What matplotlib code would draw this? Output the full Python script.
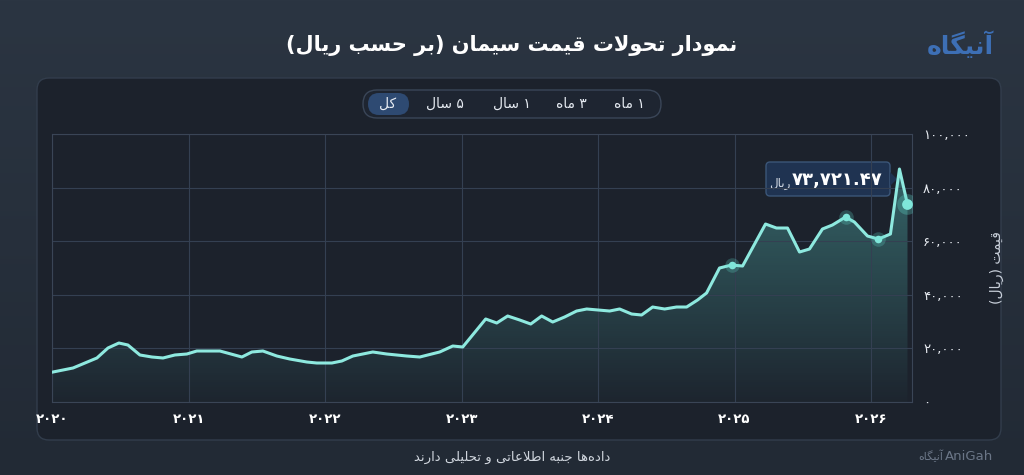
import re
import numpy as np
import matplotlib
matplotlib.use("Agg")
import matplotlib.pyplot as plt
from matplotlib.patches import FancyBboxPatch, Polygon
from matplotlib.colors import LinearSegmentedColormap

# ---- data (fractional years since 2020, price in rial) ----
t_years = [0.007, 0.154, 0.329, 0.41, 0.49, 0.556, 0.644, 0.732, 0.813, 0.9, 0.988,
           1.061, 1.23, 1.391, 1.464, 1.545, 1.647, 1.742, 1.867, 1.94, 2.05, 2.123,
           2.204, 2.35, 2.452, 2.599, 2.694, 2.84, 2.936, 3.009, 3.177, 3.258,
           3.338, 3.426, 3.507, 3.587, 3.668, 3.755, 3.843, 3.917, 4.085, 4.158, 4.246,
           4.319, 4.4, 4.488, 4.575, 4.649, 4.729, 4.795, 4.89, 4.978, 5.059, 5.227,
           5.307, 5.388, 5.476, 5.549, 5.644, 5.717, 5.813, 5.878, 5.974, 6.054, 6.142,
           6.208, 6.267]
price = [11190, 12690, 16420, 20150, 22010, 21270, 17540, 16790, 16420, 17540, 17910,
         19030, 19030, 16790, 18660, 19030, 17160, 16040, 14920, 14550, 14550, 15300,
         17160, 18660, 17910, 17160, 16790, 18660, 20890, 20520, 30970, 29480, 32090,
         30600, 29100, 32090, 29850, 31710, 33950, 34700, 33950, 34700, 32830, 32460,
         35440, 34700, 35440, 35440, 38060, 40670, 50000, 51110, 50740, 66410, 64920,
         64920, 55970, 57080, 64550, 66040, 69020, 67160, 61930, 60810, 62680, 86930,
         73721.47]
marker_idx = [51, 60, 63]
year_ticks = [2020, 2021, 2022, 2023, 2024, 2025, 2026]
price_ticks = [0, 20000, 40000, 60000, 80000, 100000]
ranges = ["۱ ماه", "۳ ماه", "۱ سال", "۵ سال", "کل"]

# ---- minimal Persian shaping (matplotlib has no RTL / joining) ----
FORMS = {
    'ا': ('\uFE8D', '\uFE8E', None, None), 'آ': ('\uFE81', '\uFE82', None, None),
    'ب': ('\uFE8F', '\uFE90', '\uFE91', '\uFE92'), 'ت': ('\uFE95', '\uFE96', '\uFE97', '\uFE98'),
    'ج': ('\uFE9D', '\uFE9E', '\uFE9F', '\uFEA0'), 'ح': ('\uFEA1', '\uFEA2', '\uFEA3', '\uFEA4'),
    'د': ('\uFEA9', '\uFEAA', None, None), 'ر': ('\uFEAD', '\uFEAE', None, None),
    'س': ('\uFEB1', '\uFEB2', '\uFEB3', '\uFEB4'), 'ط': ('\uFEC1', '\uFEC2', '\uFEC3', '\uFEC4'),
    'ع': ('\uFEC9', '\uFECA', '\uFECB', '\uFECC'), 'ق': ('\uFED5', '\uFED6', '\uFED7', '\uFED8'),
    'ل': ('\uFEDD', '\uFEDE', '\uFEDF', '\uFEE0'), 'م': ('\uFEE1', '\uFEE2', '\uFEE3', '\uFEE4'),
    'ن': ('\uFEE5', '\uFEE6', '\uFEE7', '\uFEE8'), 'ه': ('\uFEE9', '\uFEEA', '\uFEEB', '\uFEEC'),
    'و': ('\uFEED', '\uFEEE', None, None), 'ی': ('\uFBFC', '\uFBFD', '\uFBFE', '\uFBFF'),
    'ک': ('\uFB8E', '\uFB8F', '\uFB90', '\uFB91'), 'گ': ('\uFB92', '\uFB93', '\uFB94', '\uFB95'),
}
MIRROR = {'(': ')', ')': '('}


def fa(s):
    chars = list(s)
    out = []
    i = 0
    while i < len(chars):
        c = chars[i]
        if c not in FORMS:
            if c != '\u200c':
                out.append(MIRROR.get(c, c))
            i += 1
            continue
        prev = chars[i - 1] if i > 0 else None
        joins_prev = prev in FORMS and FORMS[prev][2] is not None
        if c == 'ل' and i + 1 < len(chars) and chars[i + 1] == 'ا':
            out.append('\uFEFC' if joins_prev else '\uFEFB')
            i += 2
            continue
        nxt = chars[i + 1] if i + 1 < len(chars) else None
        joins_next = FORMS[c][2] is not None and nxt in FORMS
        iso, fin, ini, med = FORMS[c]
        if joins_prev and joins_next:
            out.append(med)
        elif joins_prev:
            out.append(fin)
        elif joins_next:
            out.append(ini)
        else:
            out.append(iso)
        i += 1
    vis = ''.join(out)[::-1]
    return re.sub(r'[۰-۹0-9.,]+', lambda m: m.group(0)[::-1], vis)


def fa_num(v, fmt="{:,}"):
    s = fmt.format(v)
    return s.translate(str.maketrans("0123456789", "۰۱۲۳۴۵۶۷۸۹"))


plt.rcParams['font.family'] = ['DejaVu Sans']

W, H = 1024, 475
fig = plt.figure(figsize=(W / 100, H / 100), dpi=100)

# background gradient
bg = fig.add_axes([0, 0, 1, 1])
bg.set_xlim(0, W); bg.set_ylim(H, 0); bg.axis("off")
grad = np.linspace(0, 1, 256)[:, None] * np.ones((1, 256))
cm_bg = LinearSegmentedColormap.from_list("bg", ["#2b3542", "#222a35"])
bg.imshow(grad, cmap=cm_bg, extent=[0, W, H, 0], aspect="auto")
bg.add_patch(FancyBboxPatch((37, 78), 964, 362, boxstyle="round,pad=0,rounding_size=12",
                            fc="#1c222c", ec="#323d4c", lw=1))
bg.text(512, 45, fa("نمودار تحولات قیمت سیمان (بر حسب ریال)"), color="white",
        fontsize=15, fontweight="bold", ha="center", va="center")
bg.text(960, 45, fa("آنیگاه"), color="#3d6fb5", fontsize=18, fontweight="bold",
        ha="center", va="center")

# range selector
bg.add_patch(FancyBboxPatch((363, 90), 298, 28, boxstyle="round,pad=0,rounding_size=14",
                            fc="#1e2531", ec="#3a4658", lw=1))
bg.add_patch(FancyBboxPatch((368, 93), 41, 22, boxstyle="round,pad=0,rounding_size=11",
                            fc="#2e4a72", ec="none"))
for xc, lab in zip([629, 571, 512, 445, 388], ranges):
    bg.text(xc, 104, fa(lab), color="#e6ebf2", fontsize=10, ha="center", va="center")

bg.text(512, 457, fa("داده\u200cها جنبه اطلاعاتی و تحلیلی دارند"), color="#d0d6de",
        fontsize=9.5, ha="center", va="center")
bg.text(993, 456, "AniGah", color="#6b7687", fontsize=9.5, ha="right", va="center")
bg.text(943, 456, fa("آنیگاه"), color="#6b7687", fontsize=8, ha="right", va="center")

# ---- chart ----
x0, x1, y0, y1 = 52, 912, 134, 402
ax = fig.add_axes([x0 / W, 1 - y1 / H, (x1 - x0) / W, (y1 - y0) / H])
ax.set_facecolor("none")
tx = 2020 + np.array(t_years)
py = np.array(price)
ax.set_xlim(2020, 2026.3)
ax.set_ylim(0, 100000)
for s in ax.spines.values():
    s.set_color("#3a4556")
ax.grid(True, color="#344052", lw=0.8)
ax.set_xticks(year_ticks)
ax.set_xticklabels([fa_num(y, "{}") for y in year_ticks], color="white", fontsize=9.5,
                   fontweight="bold")
ax.set_yticks(price_ticks)
ax.set_yticklabels([fa_num(v) for v in price_ticks], color="#e8ecf2", fontsize=9.5)
ax.yaxis.tick_right()
ax.tick_params(length=0, pad=8)
ax.set_ylabel(fa("قیمت (ریال)"), color="#c9d0da", fontsize=10, rotation=90, labelpad=14)
ax.yaxis.set_label_position("right")

# gradient fill under the curve
cm_fill = LinearSegmentedColormap.from_list("f", [(0.36, 0.8, 0.77, 0.02), (0.36, 0.8, 0.77, 0.45)])
img = ax.imshow(np.linspace(0, 1, 256)[:, None], cmap=cm_fill, origin="lower",
                extent=[tx[0], tx[-1], 0, 100000], aspect="auto", zorder=1)
verts = np.vstack([[tx[0], 0], np.column_stack([tx, py]), [tx[-1], 0]])
clip = Polygon(verts, closed=True, transform=ax.transData, fc="none", ec="none")
ax.add_patch(clip)
img.set_clip_path(clip)
ax.plot(tx, py, color="#8ee9df", lw=2.2, zorder=3, solid_joinstyle="round")
for i in marker_idx:
    ax.scatter(tx[i], py[i], s=110, color="#5fd6c8", alpha=0.25, zorder=4, lw=0)
    ax.scatter(tx[i], py[i], s=30, color="#7fe6da", zorder=5, lw=0)
ax.scatter(tx[-1], py[-1], s=220, color="#5fd6c8", alpha=0.3, zorder=4, lw=0)
ax.scatter(tx[-1], py[-1], s=60, color="#7fe6da", zorder=5, lw=0)

# tooltip
bg.add_patch(FancyBboxPatch((766, 162), 124, 34, boxstyle="round,pad=0,rounding_size=4",
                            fc="#1f3351", ec="#3b5678", lw=1, zorder=10))
bg.add_patch(Polygon([[890, 172], [897, 179], [890, 186]], closed=True, fc="#1f3351",
                     ec="none", zorder=11))
bg.text(882, 180, fa_num(price[-1], "{:,.2f}"), color="white",
        fontsize=13, fontweight="bold", ha="right", va="center", zorder=12)
bg.text(780, 183, fa("ریال"), color="#d5dce6", fontsize=8.5, ha="center", va="center", zorder=12)

fig.savefig("out.png", dpi=100)
